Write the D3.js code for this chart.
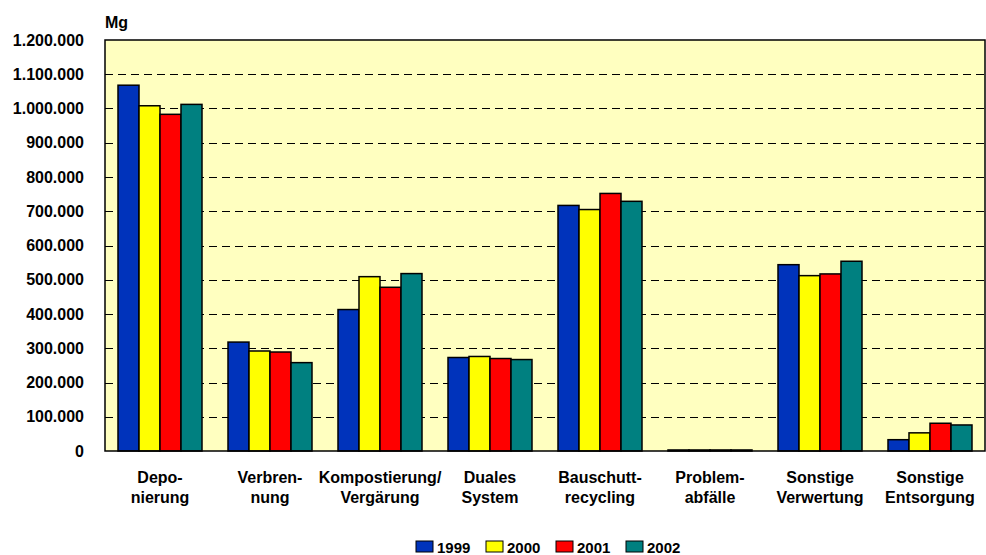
<!DOCTYPE html>
<html lang="de">
<head>
  <meta charset="UTF-8">
  <title>Abfallentsorgung</title>
  <script src="https://cdn.jsdelivr.net/npm/d3@7"></script>
  <style>
    body { margin: 0; background: #fff; }
    text { font-family: "Liberation Sans", Arial, sans-serif; font-weight: bold; fill: #000; }
  </style>
</head>
<body>
  <script>
    // data
    var categories = [
      ["Depo-", "nierung"],
      ["Verbren-", "nung"],
      ["Kompostierung/", "Vergärung"],
      ["Duales", "System"],
      ["Bauschutt-", "recycling"],
      ["Problem-", "abfälle"],
      ["Sonstige", "Verwertung"],
      ["Sonstige", "Entsorgung"]
    ];
    var years = ["1999", "2000", "2001", "2002"];
    var v1999 = [1068000, 318000, 413000, 273000, 717000, 3000, 544000, 33000];
    var v2000 = [1008000, 292000, 509000, 276000, 705000, 3000, 512000, 53000];
    var v2001 = [983000, 289000, 478000, 270000, 752000, 3000, 517000, 81000];
    var v2002 = [1012000, 258000, 518000, 267000, 729000, 3000, 554000, 76000];
    var yTicks = [0, 100000, 200000, 300000, 400000, 500000, 600000, 700000, 800000, 900000, 1000000, 1100000, 1200000];
    var colors = ["#0033BB", "#FFFF00", "#FF0000", "#008080"];

    var series = [v1999, v2000, v2001, v2002];

    var svg = d3.select("body").append("svg")
      .attr("width", 986)
      .attr("height", 555);

    var plotL = 105, plotR = 985, plotT = 40, plotB = 451;

    var x = d3.scaleBand()
      .domain(d3.range(categories.length))
      .range([plotL, plotR]);
    var x1 = d3.scaleBand()
      .domain(years)
      .range([13, x.bandwidth() - 13]);
    var y = d3.scaleLinear()
      .domain([0, 1200000])
      .range([plotB, plotT]);

    // plot background
    svg.append("rect")
      .attr("x", plotL).attr("y", plotT)
      .attr("width", plotR - plotL).attr("height", plotB - plotT)
      .attr("fill", "#FFFFC0");

    // dashed grid
    svg.selectAll("line.grid")
      .data(yTicks.filter(d => d > 0 && d < 1200000))
      .enter()
      .append("line")
      .attr("class", "grid")
      .attr("x1", plotL).attr("x2", plotR)
      .attr("y1", d => Math.round(y(d)) + 0.5)
      .attr("y2", d => Math.round(y(d)) + 0.5)
      .attr("stroke", "#000")
      .attr("stroke-dasharray", "8,5");

    // bars
    series.forEach((vals, s) => {
      svg.selectAll("rect.s" + s)
        .data(vals)
        .enter()
        .append("rect")
        .attr("class", "s" + s)
        .attr("x", (d, i) => x(i) + x1(years[s]))
        .attr("y", d => y(d))
        .attr("width", x1.bandwidth())
        .attr("height", d => plotB - y(d))
        .attr("fill", colors[s])
        .attr("stroke", "#000")
        .attr("stroke-width", 1.5);
    });

    // frame
    svg.append("rect")
      .attr("x", plotL).attr("y", plotT)
      .attr("width", plotR - plotL).attr("height", plotB - plotT)
      .attr("fill", "none")
      .attr("stroke", "#000")
      .attr("stroke-width", 1.5);

    // y axis labels
    var numFmt = d3.formatLocale({decimal: ",", thousands: ".", grouping: [3], currency: ["", ""]}).format(",d");
    var axisY = d3.axisLeft(y)
      .tickValues(yTicks)
      .tickSize(0)
      .tickPadding(21)
      .tickFormat(numFmt);
    var gy = svg.append("g")
      .attr("transform", "translate(" + plotL + ",0)")
      .call(axisY);
    gy.select(".domain").remove();
    gy.selectAll("text")
      .style("font-size", "16px")
      .style("font-family", "'Liberation Sans', Arial, sans-serif")
      .style("font-weight", "bold");

    // unit
    svg.append("text")
      .attr("x", 105).attr("y", 28)
      .style("font-size", "16px")
      .text("Mg");

    // category labels
    var cl = svg.selectAll("text.cat")
      .data(categories)
      .enter()
      .append("text")
      .attr("class", "cat")
      .attr("text-anchor", "middle")
      .style("font-size", "16px");
    cl.append("tspan")
      .attr("x", (d, i) => x(i) + x.bandwidth() / 2)
      .attr("y", 483)
      .text(d => d[0]);
    cl.append("tspan")
      .attr("x", (d, i) => x(i) + x.bandwidth() / 2)
      .attr("y", 503)
      .text(d => d[1]);

    // legend
    var legend = svg.selectAll("g.leg")
      .data(years)
      .enter()
      .append("g")
      .attr("class", "leg")
      .attr("transform", (d, i) => "translate(" + (416 + i * 70) + ",541)");
    legend.append("rect")
      .attr("width", 17).attr("height", 11)
      .attr("fill", (d, i) => colors[i])
      .attr("stroke", "#000")
      .attr("stroke-width", 1);
    legend.append("text")
      .attr("x", 21).attr("y", 11.5)
      .style("font-size", "15px")
      .text(d => d);
  </script>
</body>
</html>
